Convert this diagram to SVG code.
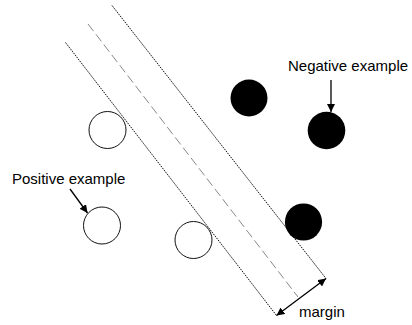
<svg xmlns="http://www.w3.org/2000/svg" width="412" height="325" viewBox="0 0 412 325">
<style>
.bound{stroke:#111;stroke-width:1;stroke-dasharray:1.6,1;fill:none}
.mid{stroke:#888;stroke-width:1;stroke-dasharray:9,4;fill:none}
.pos{fill:#fff;stroke:#111;stroke-width:1}
.neg{fill:#000}
.arr{stroke:#000;stroke-width:1.3;fill:none}
text{font-family:"Liberation Sans",Arial,sans-serif;font-size:15px;fill:#000}
</style>
<defs>
<marker id="ah" viewBox="0 0 10 10" refX="10" refY="5" markerWidth="8" markerHeight="8" markerUnits="userSpaceOnUse" orient="auto-start-reverse">
<path d="M0,0 L10,5 L0,10 z" fill="#000"/>
</marker>
</defs>
<rect width="412" height="325" fill="#fff"/>
<g id="connectors">
<line id="margin-left" class="bound" x1="65.5" y1="42.5" x2="276.5" y2="315.5"/>
<line id="margin-right" class="bound" x1="112" y1="5.5" x2="326" y2="278.5"/>
<line id="hyperplane" class="mid" x1="88" y1="24" x2="298" y2="297"/>
<line id="margin-arrow" class="arr" x1="276.5" y1="315.5" x2="326" y2="278.5" marker-start="url(#ah)" marker-end="url(#ah)"/>
<line id="neg-arrow" class="arr" x1="331" y1="80" x2="331" y2="112" marker-end="url(#ah)"/>
<line id="pos-arrow" class="arr" x1="70" y1="189" x2="87.5" y2="213" marker-end="url(#ah)"/>
</g>
<g id="pos1"><circle class="pos" cx="107.5" cy="130" r="18.5"/></g>
<g id="pos2"><circle class="pos" cx="102" cy="225.5" r="18.5"/></g>
<g id="pos3"><circle class="pos" cx="193.5" cy="240" r="18.5"/></g>
<g id="neg1"><circle class="neg" cx="249" cy="98" r="18.5"/></g>
<g id="neg2"><circle class="neg" cx="326.5" cy="130.5" r="18.8"/></g>
<g id="neg3"><circle class="neg" cx="303.5" cy="222" r="18.6"/></g>
<g id="labels">
<text x="288" y="71">Negative example</text>
<text x="12" y="183.5">Positive example</text>
<text x="299" y="317">margin</text>
</g>
</svg>
